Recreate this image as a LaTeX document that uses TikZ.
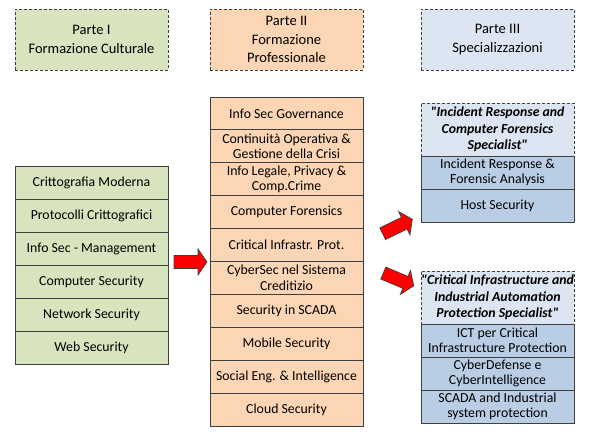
\documentclass[tikz,border=0pt]{standalone}
\usepackage{fontspec}
\setmainfont{Carlito}[Ligatures=TeXOff]
\definecolor{gfill}{HTML}{D7E4BD}
\definecolor{ofill}{HTML}{FCD5B5}
\definecolor{bhfill}{HTML}{DCE6F2}
\definecolor{bfill}{HTML}{B9CDE5}
\definecolor{edge}{HTML}{3F3F3F}
\definecolor{arrred}{HTML}{FF0000}
\tikzset{
  cell/.style={draw=edge, line width=0.9pt, rectangle, inner sep=0pt, align=center,
    minimum width=153pt, font=\fontsize{13.8}{15.5}\selectfont},
  gcell/.style={cell, fill=gfill, minimum height=33pt},
  ocell/.style={cell, fill=ofill, minimum height=32.9pt},
  bcell/.style={cell, fill=bfill, minimum height=33pt},
  tophdr/.style={cell, dash pattern=on 3pt off 2pt, minimum height=61pt, font=\fontsize{14.5}{18.5}\selectfont},
  spechdr/.style={cell, fill=bhfill, dash pattern=on 3pt off 2pt, minimum height=53pt,
    font=\fontsize{13.8}{16.5}\selectfont\bfseries\itshape},
  blockarrow/.pic={\draw[draw=edge, fill=arrred, line width=0.7pt, line join=miter]
    (-16.5,-6.5) -- (7.5,-6.5) -- (7.5,-13) -- (16.5,0) -- (7.5,13) -- (7.5,6.5) -- (-16.5,6.5) -- cycle;}
}
\begin{document}
\begin{tikzpicture}[x=1pt,y=-1pt]
\useasboundingbox (0,0) rectangle (600,443);
% headers
\node[tophdr, fill=gfill] (h1) at (91.5,39.5) {Parte I\\Formazione Culturale};
\node[tophdr, fill=ofill] (h2) at (286.5,39.5) {Parte II\\Formazione\\Professionale};
\node[tophdr, fill=bhfill] (h3) at (497.5,39.5) {Parte III\\Specializzazioni};
% left column
\node[gcell] (l1) at (91.5,182.5) {Crittografia Moderna};
\node[gcell] (l2) at (91.5,215.5) {Protocolli Crittografici};
\node[gcell] (l3) at (91.5,248.5) {Info Sec - Management};
\node[gcell] (l4) at (91.5,281.5) {Computer Security};
\node[gcell] (l5) at (91.5,314.5) {Network Security};
\node[gcell] (l6) at (91.5,347.5) {Web Security};
% middle column
\node[ocell] (m1) at (286.5,113.45) {Info Sec Governance};
\node[ocell] (m2) at (286.5,146.35) {Continuità Operativa \&\\Gestione della Crisi};
\node[ocell] (m3) at (286.5,179.25) {Info Legale, Privacy \&\\Comp.Crime};
\node[ocell] (m4) at (286.5,212.15) {Computer Forensics};
\node[ocell] (m5) at (286.5,245.05) {Critical Infrastr. Prot.};
\node[ocell] (m6) at (286.5,277.95) {CyberSec nel Sistema\\Creditizio};
\node[ocell] (m7) at (286.5,310.85) {Security in SCADA};
\node[ocell] (m8) at (286.5,343.75) {Mobile Security};
\node[ocell] (m9) at (286.5,376.65) {Social Eng. \& Intelligence};
\node[ocell] (m10) at (286.5,409.55) {Cloud Security};
% right column group 1
\node[bcell] (r1a) at (497.5,172.5) {Incident Response \&\\Forensic Analysis};
\node[bcell] (r1b) at (497.5,206) {Host Security};
\node[spechdr] (s1) at (497.5,129.5) {"Incident Response and\\Computer Forensics\\Specialist"};
% right column group 2
\node[bcell] (r2a) at (497.5,340.5) {ICT per Critical\\Infrastructure Protection};
\node[bcell] (r2b) at (497.5,373.5) {CyberDefense e\\CyberIntelligence};
\node[bcell] (r2c) at (497.5,406.5) {SCADA and Industrial\\system protection};
\node[spechdr] (s2) at (497.5,297.5) {"Critical Infrastructure and\\Industrial Automation\\Protection Specialist"};
% arrows
\pic at (190.5,262) {blockarrow};
\pic[rotate=26] at (397.5,226.5) {blockarrow};
\pic[rotate=-23] at (398.5,279.5) {blockarrow};
\end{tikzpicture}
\end{document}
